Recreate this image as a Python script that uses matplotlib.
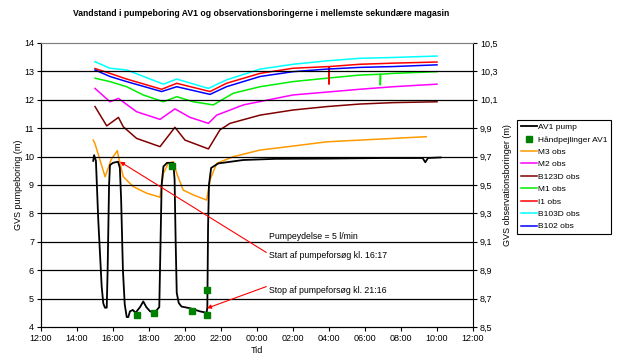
import pandas as pd
import numpy as np
import matplotlib
matplotlib.use("Agg")
import matplotlib.pyplot as plt
import matplotlib.dates as mdates

plt.rcParams['font.family'] = ['Liberation Sans', 'DejaVu Sans']

# tid i timer efter kl. 12:00
base = pd.Timestamp("2000-01-01 12:00")

# AV1 pump (venstre akse)
pump_h = [2.90, 2.95, 3.05, 3.18, 3.37, 3.46, 3.55, 3.65, 3.70, 3.78, 3.83, 4.00, 4.28, 4.38, 4.45,
          4.55, 4.65, 4.76, 4.85, 4.94, 5.10, 5.25, 5.50, 5.68, 5.85, 6.06, 6.33, 6.57, 6.64, 6.70,
          6.80, 7.00, 7.35, 7.42, 7.48, 7.54, 7.65, 7.80, 8.28, 8.83, 9.20, 9.24, 9.28, 9.33, 9.45,
          9.85, 11.24, 13.0, 16.0, 19.0, 21.2, 21.35, 21.5, 22.2]
pump_v = [9.85, 10.05, 9.85, 7.77, 5.42, 4.83, 4.68, 4.68, 6.0, 9.0, 9.7, 9.78, 9.82, 9.6, 8.5,
          6.0, 4.8, 4.35, 4.35, 4.55, 4.6, 4.5, 4.7, 4.9, 4.7, 4.55, 4.52, 4.7, 7.0, 9.0,
          9.65, 9.78, 9.78, 9.2, 7.0, 5.2, 4.85, 4.72, 4.66, 4.55, 4.5, 4.7, 7.5, 9.0, 9.6,
          9.76, 9.88, 9.92, 9.93, 9.95, 9.95, 9.8, 9.95, 9.97]

# Håndpejlinger AV1
hand_h = [5.31, 6.30, 7.26, 8.37, 9.24, 9.24]
hand_v = [4.42, 4.48, 9.67, 4.56, 5.31, 4.42]

# observationsboringer (højre akse)
m3_h = [2.9, 3.0, 3.56, 3.9, 4.24, 4.3, 4.57, 5.13, 5.87, 6.61, 6.8, 7.07, 7.35, 7.54, 7.9, 8.46,
        9.2, 9.39, 9.76, 10.7, 12.17, 14.0, 15.87, 17.7, 19.57, 21.4]
m3_v = [9.816, 9.79, 9.558, 9.68, 9.742, 9.70, 9.558, 9.488, 9.442, 9.414, 9.582, 9.652, 9.664,
        9.582, 9.464, 9.43, 9.394, 9.536, 9.652, 9.70, 9.746, 9.774, 9.804, 9.816, 9.828, 9.84]

b123d_h = [3.0, 3.65, 4.3, 4.57, 5.31, 6.61, 7.44, 8.0, 9.3, 9.94, 10.5, 12.17, 14.0, 15.87, 17.7, 19.57, 22.0]
b123d_v = [10.052, 9.916, 9.976, 9.91, 9.828, 9.77, 9.906, 9.816, 9.754, 9.888, 9.934, 9.992,
           10.028, 10.052, 10.07, 10.08, 10.086]

m2_h = [3.0, 3.83, 4.3, 5.31, 6.61, 7.44, 8.28, 9.3, 9.76, 11.24, 14.0, 17.7, 19.57, 22.0]
m2_v = [10.18, 10.086, 10.11, 10.016, 9.962, 10.036, 9.976, 9.934, 9.992, 10.064, 10.134, 10.174,
        10.192, 10.21]

m1_h = [3.0, 3.83, 4.76, 5.68, 6.8, 7.54, 8.46, 9.57, 10.68, 12.17, 14.0, 15.87, 17.7, 18.85, 18.85,
        18.87, 19.57, 22.0]
m1_v = [10.252, 10.228, 10.192, 10.134, 10.086, 10.122, 10.086, 10.064, 10.146, 10.192, 10.228,
        10.252, 10.274, 10.28, 10.204, 10.28, 10.286, 10.298]

b102_h = [3.0, 3.83, 4.76, 6.7, 7.54, 9.39, 10.3, 12.17, 14.0, 15.87, 17.7, 19.57, 22.0]
b102_v = [10.31, 10.264, 10.228, 10.158, 10.192, 10.138, 10.192, 10.264, 10.298, 10.316, 10.328,
          10.334, 10.346]

i1_h = [3.0, 3.83, 4.76, 6.7, 7.54, 9.39, 10.3, 12.17, 14.0, 16.0, 16.0, 16.02, 17.7, 19.57, 22.0]
i1_v = [10.32, 10.286, 10.246, 10.174, 10.216, 10.158, 10.216, 10.286, 10.322, 10.334, 10.21,
        10.334, 10.35, 10.358, 10.366]

b103d_h = [3.0, 3.83, 4.76, 6.8, 7.54, 9.3, 10.3, 12.17, 14.0, 15.87, 17.7, 19.57, 22.0]
b103d_v = [10.368, 10.322, 10.31, 10.21, 10.246, 10.18, 10.24, 10.316, 10.35, 10.374, 10.392,
           10.398, 10.408]


def tid(h):
    return [base + pd.Timedelta(hours=x) for x in h]


fig = plt.figure(figsize=(6.17, 3.6), dpi=100)
ax = fig.add_axes([0.0665, 0.0917, 0.7001, 0.7889])
ax2 = ax.twinx()

# gitterlinjer
for lvl in range(5, 14):
    ax.axhline(lvl, color='black', lw=0.9, zorder=0)

l_pump, = ax.plot(tid(pump_h), pump_v, color='black', lw=1.3, label='AV1 pump', zorder=3)
l_hand, = ax.plot(tid(hand_h), hand_v, ls='none', marker='s', ms=4, color='#008000',
                  label='Håndpejlinger AV1', zorder=4)

obs = [
    (m3_h, m3_v, '#FF9900', 'M3 obs'),
    (m2_h, m2_v, '#FF00FF', 'M2 obs'),
    (b123d_h, b123d_v, '#800000', 'B123D obs'),
    (m1_h, m1_v, '#00EE00', 'M1 obs'),
    (i1_h, i1_v, '#FF0000', 'I1 obs'),
    (b103d_h, b103d_v, '#00FFFF', 'B103D obs'),
    (b102_h, b102_v, '#0000FF', 'B102 obs'),
]
obs_lines = []
for h, v, c, navn in obs:
    ln, = ax2.plot(tid(h), v, color=c, lw=1.1, label=navn)
    obs_lines.append(ln)

ax.set_xlim(base, base + pd.Timedelta(hours=24))
ax.set_ylim(4, 14)
ax.set_yticks(range(4, 15))
ax2.set_ylim(8.5, 10.5)
ax2.set_yticks(np.arange(8.5, 10.51, 0.2))
ax2.set_yticklabels([f"{t:.1f}".replace('.', ',') for t in np.arange(8.5, 10.51, 0.2)])

ax.xaxis.set_major_locator(mdates.HourLocator(byhour=range(0, 24, 2)))
ax.xaxis.set_major_formatter(mdates.DateFormatter('%H:%M'))

for a in (ax, ax2):
    a.tick_params(labelsize=6.5, direction='out', length=3, width=0.8, pad=2)
    a.spines['top'].set_color('#808080')
ax.spines['right'].set_visible(False)

ax.set_xlabel('Tid', fontsize=6.5, labelpad=2)
ax.set_ylabel('GVS pumpeboring (m)', fontsize=6.5, labelpad=1)
ax2.set_ylabel('GVS observationsboringer (m)', fontsize=6.5, labelpad=4)

fig.suptitle('Vandstand i pumpeboring AV1 og observationsboringerne i mellemste sekundære magasin',
             fontsize=6.2, fontweight='bold', x=0.423, y=0.975)

# tekster og pile
ax.text(base + pd.Timedelta(hours=12.67), 7.2, 'Pumpeydelse = 5 l/min', fontsize=6.3, va='center')
ax.annotate('Start af pumpeforsøg kl. 16:17',
            xy=(base + pd.Timedelta(hours=4.39), 9.82), xytext=(base + pd.Timedelta(hours=12.67), 6.5),
            fontsize=6.3, va='center',
            arrowprops=dict(arrowstyle='-|>', color='red', lw=0.8, mutation_scale=6,
                            shrinkA=0, shrinkB=0, relpos=(0, 0.7)))
ax.annotate('Stop af pumpeforsøg kl. 21:16',
            xy=(base + pd.Timedelta(hours=9.22), 4.66), xytext=(base + pd.Timedelta(hours=12.67), 5.3),
            fontsize=6.3, va='center',
            arrowprops=dict(arrowstyle='-|>', color='red', lw=0.8, mutation_scale=6,
                            shrinkA=0, shrinkB=0, relpos=(0, 1.0)))

ax.set_zorder(ax2.get_zorder() + 1)
ax.patch.set_visible(False)

leg = fig.legend([l_pump, l_hand] + obs_lines,
                 [l_pump.get_label(), l_hand.get_label()] + [o[3] for o in obs],
                 loc='upper left', bbox_to_anchor=(0.838, 0.668), fontsize=6.0,
                 frameon=True, fancybox=False, edgecolor='black', framealpha=1,
                 labelspacing=0.55, handlelength=1.9, handletextpad=0.15, borderpad=0.45,
                 borderaxespad=0)
leg.get_frame().set_linewidth(0.8)

plt.savefig("out.png", dpi=100)
